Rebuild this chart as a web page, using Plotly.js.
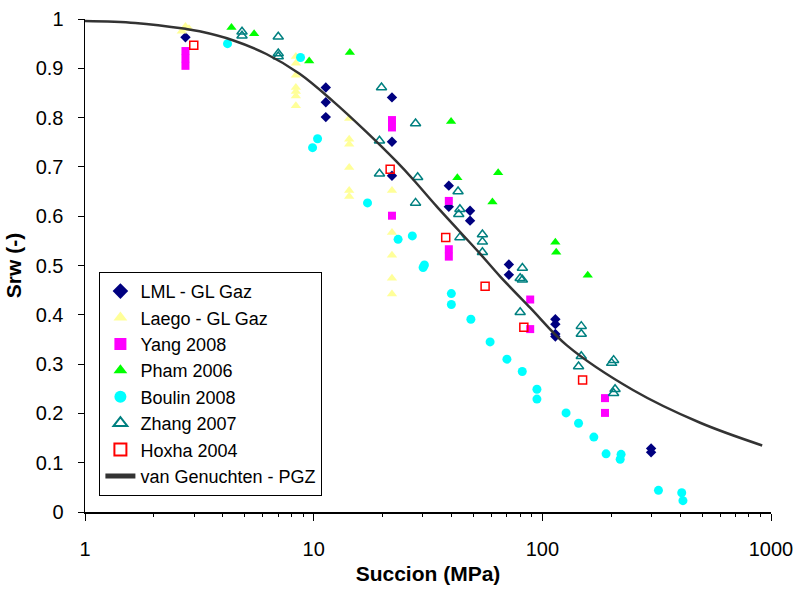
<!DOCTYPE html>
<html>
<head>
<meta charset="utf-8">
<script src="https://cdn.plot.ly/plotly-3.0.1.min.js"></script>
<style>html,body{margin:0;padding:0;background:#fff}#chart{width:798px;height:592px}</style>
</head>
<body>
<div id="chart"></div>
<script>
// ---- data ----
const lmlX = [2.75, 11.3, 11.3, 11.3, 22.0, 22.0, 22.0, 39.0, 39.0, 48.3, 48.3, 71.4, 71.4, 114, 114, 114, 114, 299, 299];
const lmlY = [0.963, 0.861, 0.831, 0.801, 0.841, 0.751, 0.682, 0.662, 0.619, 0.611, 0.591, 0.502, 0.481, 0.391, 0.381, 0.361, 0.356, 0.129, 0.121];

const laegoX = [2.65, 2.75, 2.85, 8.36, 8.36, 8.36, 8.36, 8.36, 8.36, 8.36, 14.3, 14.3, 14.3, 14.3, 14.3, 14.3, 22.0, 22.0, 22.0, 22.0, 22.0];
const laegoY = [0.975, 0.985, 0.98, 0.924, 0.91, 0.886, 0.861, 0.853, 0.844, 0.824, 0.798, 0.756, 0.746, 0.699, 0.652, 0.640, 0.652, 0.567, 0.521, 0.474, 0.442];

const yangX = [2.75, 2.75, 2.75, 22.0, 22.0, 22.0, 39.0, 39.0, 39.0, 88.5, 88.5, 188, 188];
const yangY = [0.935, 0.92, 0.905, 0.795, 0.78, 0.601, 0.631, 0.533, 0.518, 0.431, 0.371, 0.231, 0.201];

const phamX = [4.37, 5.49, 9.56, 14.4, 39.9, 42.5, 64.1, 60.5, 114, 115, 158];
const phamY = [0.983, 0.970, 0.915, 0.932, 0.792, 0.678, 0.688, 0.629, 0.547, 0.527, 0.480];

const boulinX = [4.2, 8.76, 10.4, 9.89, 17.2, 23.4, 27.0, 30.5, 30.1, 40.0, 40.0, 48.7, 59.1, 70.0, 81.7, 94.7, 94.7, 127, 144, 168, 190, 221, 219, 322, 407, 412];
const boulinY = [0.950, 0.922, 0.757, 0.739, 0.627, 0.553, 0.560, 0.501, 0.496, 0.443, 0.421, 0.391, 0.345, 0.310, 0.285, 0.249, 0.229, 0.201, 0.180, 0.152, 0.118, 0.117, 0.107, 0.044, 0.039, 0.023];

const zhangX = [4.86, 4.86, 7.0, 7.0, 7.0, 19.8, 27.9, 19.4, 19.4, 28.5, 42.8, 43.6, 43.1, 43.6, 27.9, 54.7, 54.7, 54.7, 81.8, 80.0, 81.8, 80.0, 148, 148, 148, 144, 205, 201, 208, 205];
const zhangY = [0.974, 0.966, 0.964, 0.930, 0.924, 0.861, 0.788, 0.753, 0.686, 0.679, 0.650, 0.614, 0.604, 0.557, 0.627, 0.563, 0.548, 0.527, 0.495, 0.474, 0.471, 0.405, 0.377, 0.361, 0.316, 0.295, 0.308, 0.302, 0.249, 0.241];

const hoxhaX = [2.99, 21.6, 37.8, 56.2, 83.0, 150];
const hoxhaY = [0.947, 0.695, 0.557, 0.458, 0.375, 0.268];

const vgX = [1, 1.66, 2.75, 3.17, 4.43, 6.21, 8.68, 12.1, 17.0, 23.0, 27.3, 34.5, 53.4, 65.3, 88.6, 128, 250, 490, 915];
const vgY = [0.996, 0.992, 0.980, 0.975, 0.957, 0.929, 0.889, 0.834, 0.771, 0.711, 0.674, 0.620, 0.524, 0.478, 0.414, 0.338, 0.247, 0.181, 0.135];

const xTickVals = [1, 10, 100, 1000];
const xTickText = ['1', '10', '100', '1000'];
const xMinorVals = [2, 3, 4, 5, 6, 7, 8, 9, 20, 30, 40, 50, 60, 70, 80, 90, 200, 300, 400, 500, 600, 700, 800, 900];
const yTickVals = [0, 0.1, 0.2, 0.3, 0.4, 0.5, 0.6, 0.7, 0.8, 0.9, 1];
const yTickText = ['0', '0.1', '0.2', '0.3', '0.4', '0.5', '0.6', '0.7', '0.8', '0.9', '1'];

const seriesNames = ['LML - GL Gaz', 'Laego - GL Gaz', 'Yang 2008', 'Pham 2006', 'Boulin 2008', 'Zhang 2007', 'Hoxha 2004', 'van Genuchten - PGZ'];

// ---- traces ----
function sc(x, y, name, marker) {
  return {x: x, y: y, name: name, type: 'scatter', mode: 'markers', marker: marker};
}
const traces = [
  sc(lmlX, lmlY, seriesNames[0], {symbol: 'diamond', size: 8, color: '#000080'}),
  sc(laegoX, laegoY, seriesNames[1], {symbol: 'triangle-up', size: 9, color: '#FFFF99'}),
  sc(yangX, yangY, seriesNames[2], {symbol: 'square', size: 8, color: '#FF00FF'}),
  sc(phamX, phamY, seriesNames[3], {symbol: 'triangle-up', size: 9, color: '#00FF00'}),
  sc(boulinX, boulinY, seriesNames[4], {symbol: 'circle', size: 9, color: '#00FFFF'}),
  sc(zhangX, zhangY, seriesNames[5], {symbol: 'triangle-up-open', size: 9, color: '#008080', line: {width: 1.5, color: '#008080'}}),
  sc(hoxhaX, hoxhaY, seriesNames[6], {symbol: 'square-open', size: 8, color: '#FF0000', line: {width: 1.5, color: '#FF0000'}}),
  {x: vgX, y: vgY, name: seriesNames[7], type: 'scatter', mode: 'lines',
   line: {color: '#333333', width: 2.5, shape: 'spline', smoothing: 1}},
  // empty helper trace so the minor-tick axis is drawn
  {x: [1, 1000], y: [null, null], xaxis: 'x2', yaxis: 'y', type: 'scatter', mode: 'markers', showlegend: false, hoverinfo: 'skip'}
];

const fam = 'Liberation Sans, Arial, sans-serif';
const layout = {
  width: 798, height: 592,
  margin: {l: 85, r: 27, t: 19, b: 80, pad: 0},
  showlegend: true,
  xaxis: {
    type: 'log', range: [0, 3],
    tickmode: 'array', tickvals: xTickVals, ticktext: xTickText,
    ticks: 'outside', ticklen: 7, tickwidth: 1, tickcolor: '#000',
    showline: true, linecolor: '#000', linewidth: 1.5,
    showgrid: false, zeroline: false,
    ticklabelstandoff: 11,
    tickfont: {family: fam, size: 20, color: '#000'},
    title: {text: 'Succion (MPa)', font: {family: fam, size: 21, color: '#000', weight: 'bold'}, standoff: 8}
  },
  xaxis2: {
    type: 'log', range: [0, 3], overlaying: 'x', anchor: 'y', side: 'bottom',
    tickmode: 'array', tickvals: xMinorVals,
    ticks: 'outside', ticklen: 4, tickwidth: 1, tickcolor: '#000',
    showline: false, showgrid: false, zeroline: false, showticklabels: false
  },
  yaxis: {
    range: [0, 1],
    tickmode: 'array', tickvals: yTickVals, ticktext: yTickText,
    ticks: 'outside', ticklen: 6, tickwidth: 1, tickcolor: '#000',
    showline: true, linecolor: '#000', linewidth: 1.5,
    showgrid: false, zeroline: false,
    ticklabelstandoff: 10,
    tickfont: {family: fam, size: 20, color: '#000'},
    title: {text: 'Srw (-)', font: {family: fam, size: 21, color: '#000', weight: 'bold'}, standoff: 8}
  },
  legend: {
    x: 0.021, y: 0.487, xanchor: 'left', yanchor: 'top',
    bgcolor: '#fff', bordercolor: '#000', borderwidth: 1,
    font: {family: fam, size: 18, color: '#000'},
    itemsizing: 'constant', tracegroupgap: 0
  }
};

Plotly.newPlot('chart', traces, layout, {staticPlot: true, displayModeBar: false});
</script>
</body>
</html>
